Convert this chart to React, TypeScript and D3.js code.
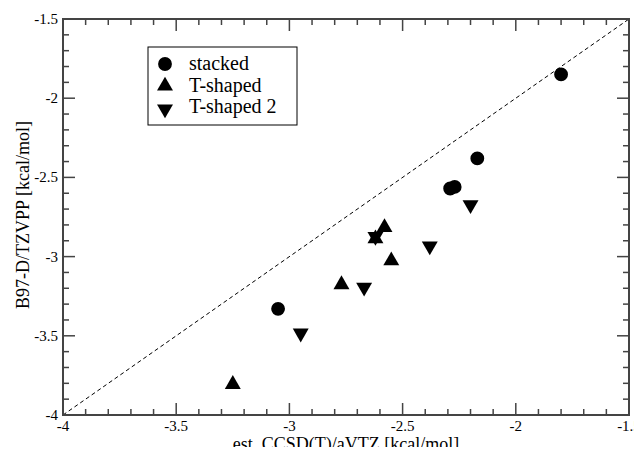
import React, { useEffect, useRef } from "react";
import * as d3 from "d3";

// estimated CCSD(T)/aVTZ (x) vs B97-D/TZVPP (y), kcal/mol
const stackedX = [-1.8, -2.17, -2.29, -2.27, -3.05];
const stackedY = [-1.85, -2.38, -2.57, -2.56, -3.33];

const tShapedX = [-2.58, -2.55, -2.77, -3.25, -2.62];
const tShapedY = [-2.81, -3.02, -3.17, -3.8, -2.88];

const tShaped2X = [-2.2, -2.38, -2.67, -2.95, -2.62];
const tShaped2Y = [-2.68, -2.94, -3.2, -3.49, -2.88];

const xTicks = [-4, -3.5, -3, -2.5, -2, -1.5];
const yTicks = [-4, -3.5, -3, -2.5, -2, -1.5];
const legendLabels = ["stacked", "T-shaped", "T-shaped 2"];

const App = () => {
  const ref = useRef(null);

  useEffect(() => {
    const svg = d3.select(ref.current);
    svg.selectAll("*").remove();

    const margin = { top: 19, right: 13, bottom: 40, left: 63 };
    const W = 642;
    const H = 455;
    const width = W - margin.left - margin.right;
    const height = H - margin.top - margin.bottom;
    const font = "'Liberation Serif', 'Times New Roman', serif";
    const axisColor = "#444";

    const x = d3.scaleLinear().domain([-4, -1.5]).range([0, width]);
    const y = d3.scaleLinear().domain([-4, -1.5]).range([height, 0]);

    const g = svg.append("g").attr("transform", `translate(${margin.left},${margin.top})`);

    // y = x reference line
    g.append("line")
      .attr("x1", x(-4)).attr("y1", y(-4))
      .attr("x2", x(-1.5)).attr("y2", y(-1.5))
      .attr("stroke", "#000")
      .attr("stroke-width", 1)
      .attr("stroke-dasharray", "4,3");

    // frame
    g.append("rect")
      .attr("width", width).attr("height", height)
      .attr("fill", "none").attr("stroke", axisColor).attr("stroke-width", 2);

    // ticks, inward on all four sides
    const minor = d3.range(-4, -1.5 + 1e-9, 0.1).map(v => Math.round(v * 10) / 10);
    const isMajor = v => Math.abs(v * 2 - Math.round(v * 2)) < 1e-6;
    minor.forEach(v => {
      const len = isMajor(v) ? 12 : 6;
      g.append("line").attr("x1", x(v)).attr("x2", x(v)).attr("y1", height).attr("y2", height - len)
        .attr("stroke", axisColor).attr("stroke-width", 1.5);
      g.append("line").attr("x1", x(v)).attr("x2", x(v)).attr("y1", 0).attr("y2", len)
        .attr("stroke", axisColor).attr("stroke-width", 1.5);
      g.append("line").attr("y1", y(v)).attr("y2", y(v)).attr("x1", 0).attr("x2", len)
        .attr("stroke", axisColor).attr("stroke-width", 1.5);
      g.append("line").attr("y1", y(v)).attr("y2", y(v)).attr("x1", width).attr("x2", width - len)
        .attr("stroke", axisColor).attr("stroke-width", 1.5);
    });

    g.selectAll(".xt").data(xTicks).enter().append("text")
      .attr("x", d => x(d)).attr("y", height + 16)
      .attr("text-anchor", "middle")
      .style("font-family", font).style("font-size", "15px")
      .text(d => String(d));

    g.selectAll(".yt").data(yTicks).enter().append("text")
      .attr("x", -5).attr("y", d => y(d) + 5)
      .attr("text-anchor", "end")
      .style("font-family", font).style("font-size", "15px")
      .text(d => String(d));

    // axis titles
    g.append("text")
      .attr("x", width / 2).attr("y", height + 35)
      .attr("text-anchor", "middle")
      .style("font-family", font).style("font-size", "18px")
      .text("est. CCSD(T)/aVTZ [kcal/mol]");

    g.append("text")
      .attr("transform", `translate(${-34},${height / 2 - 2}) rotate(-90)`)
      .attr("text-anchor", "middle")
      .style("font-family", font).style("font-size", "18px")
      .text("B97-D/TZVPP [kcal/mol]");

    // symbols
    const circle = d3.symbol().type(d3.symbolCircle).size(150)();
    const up = d3.symbol().type(d3.symbolTriangle).size(110)();
    const down = up;

    g.selectAll(".stacked").data(stackedX).enter().append("path")
      .attr("d", circle)
      .attr("transform", (d, i) => `translate(${x(d)},${y(stackedY[i])})`)
      .attr("fill", "#000");

    g.selectAll(".tshaped").data(tShapedX).enter().append("path")
      .attr("d", up)
      .attr("transform", (d, i) => `translate(${x(d)},${y(tShapedY[i]) + 1})`)
      .attr("fill", "#000");

    g.selectAll(".tshaped2").data(tShaped2X).enter().append("path")
      .attr("d", down)
      .attr("transform", (d, i) => `translate(${x(d)},${y(tShaped2Y[i]) - 1}) rotate(180)`)
      .attr("fill", "#000");

    // legend
    const legend = svg.append("g").attr("transform", "translate(148,47)");
    legend.append("rect")
      .attr("width", 149).attr("height", 78)
      .attr("fill", "#fff").attr("stroke", "#000").attr("stroke-width", 1);
    const shapes = [circle, up, down];
    const rowY = [17, 39, 62];
    legendLabels.forEach((label, i) => {
      legend.append("path")
        .attr("d", shapes[i])
        .attr("transform", `translate(17,${rowY[i]})${i === 2 ? " rotate(180)" : ""}`)
        .attr("fill", "#000");
      legend.append("text")
        .attr("x", 41).attr("y", rowY[i] + (i === 2 ? 4 : 6))
        .style("font-family", font).style("font-size", "20px")
        .text(label);
    });
  }, []);

  return (
    <div style={{ margin: -8 }}>
      <svg ref={ref} width={642} height={455} style={{ display: "block", background: "#fff" }} />
    </div>
  );
};

export default App;
